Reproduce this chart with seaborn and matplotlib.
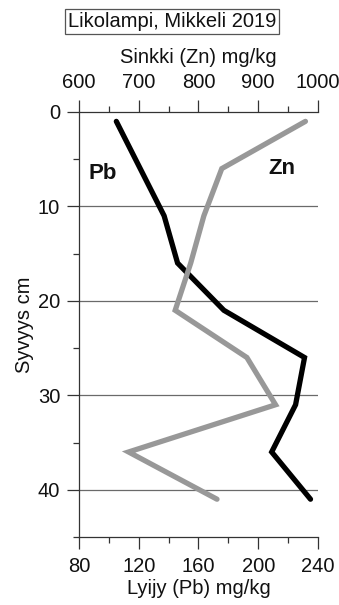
import numpy as np
import pandas as pd
import matplotlib
matplotlib.use("Agg")
import matplotlib.pyplot as plt
from matplotlib.ticker import MultipleLocator
import seaborn as sns

depth = [1, 6, 11, 16, 21, 26, 31, 36, 41]
pb = [105, 121, 137, 146, 177, 231, 225, 209, 235]
zn = [979, 839, 809, 787, 761, 881, 929, 683, 831]

sns.set_theme(style="white")
plt.rcParams["font.family"] = ["Liberation Sans", "DejaVu Sans"]
plt.rcParams["text.color"] = "#111111"
plt.rcParams["axes.labelcolor"] = "#111111"
plt.rcParams["xtick.color"] = "#111111"
plt.rcParams["ytick.color"] = "#111111"

fs = 14.5
fig = plt.figure(figsize=(3.39, 6.05), dpi=100)
ax = fig.add_axes([0.233, 0.1124, 0.705, 0.7026])

for y in (10, 20, 30, 40):
    ax.axhline(y, color="#6a6a6a", lw=0.9, zorder=0)

sns.lineplot(x=pb, y=depth, sort=False, ax=ax, color="black", lw=3.8,
             solid_capstyle="round", solid_joinstyle="miter")
ax.set_xlim(80, 240)
ax.set_ylim(45, 0)
ax.xaxis.set_major_locator(MultipleLocator(40))
ax.xaxis.set_minor_locator(MultipleLocator(20))
ax.yaxis.set_major_locator(MultipleLocator(10))
ax.yaxis.set_minor_locator(MultipleLocator(5))
ax.set_xlabel("Lyijy (Pb) mg/kg", fontsize=fs, labelpad=2)
ax.set_ylabel("Syvyys cm", fontsize=fs, labelpad=3)
ax.tick_params(which="major", direction="out", length=8.5, width=0.9,
               labelsize=fs, pad=5, color="#333333",
               bottom=True, left=True)
ax.tick_params(which="minor", direction="out", length=4.5, width=0.9,
               color="#333333", bottom=True, left=True)
ax.tick_params(axis="x", which="major", pad=6)
for s in ("right", "top"):
    ax.spines[s].set_visible(False)
for s in ("left", "bottom"):
    ax.spines[s].set_color("#333333")
    ax.spines[s].set_linewidth(0.9)

ax2 = ax.twiny()
sns.lineplot(x=zn, y=depth, sort=False, ax=ax2, color="#989898", lw=3.8,
             solid_capstyle="round", solid_joinstyle="miter")
ax2.set_xlim(600, 1000)
ax2.set_ylim(45, 0)
ax2.xaxis.set_major_locator(MultipleLocator(100))
ax2.xaxis.set_minor_locator(MultipleLocator(50))
ax2.set_xlabel("Sinkki (Zn) mg/kg", fontsize=fs, labelpad=7)
ax2.tick_params(which="major", direction="out", length=8.5, width=0.9,
                labelsize=fs, pad=6, color="#333333", top=True)
ax2.tick_params(which="minor", direction="out", length=4.5, width=0.9,
                color="#333333", top=True)
for s in ("right", "left", "bottom"):
    ax2.spines[s].set_visible(False)
ax2.spines["top"].set_color("#333333")
ax2.spines["top"].set_linewidth(0.9)

ax.text(96, 6.5, "Pb", fontsize=16, fontweight="bold", ha="center", va="center")
ax.text(216, 6.0, "Zn", fontsize=16, fontweight="bold", ha="center", va="center")

fig.text(0.508, 0.965, "Likolampi, Mikkeli 2019", fontsize=fs,
         ha="center", va="center",
         bbox=dict(boxstyle="square,pad=0.15", fc="white", ec="#555555", lw=0.9))

fig.savefig("out.png", dpi=100)
